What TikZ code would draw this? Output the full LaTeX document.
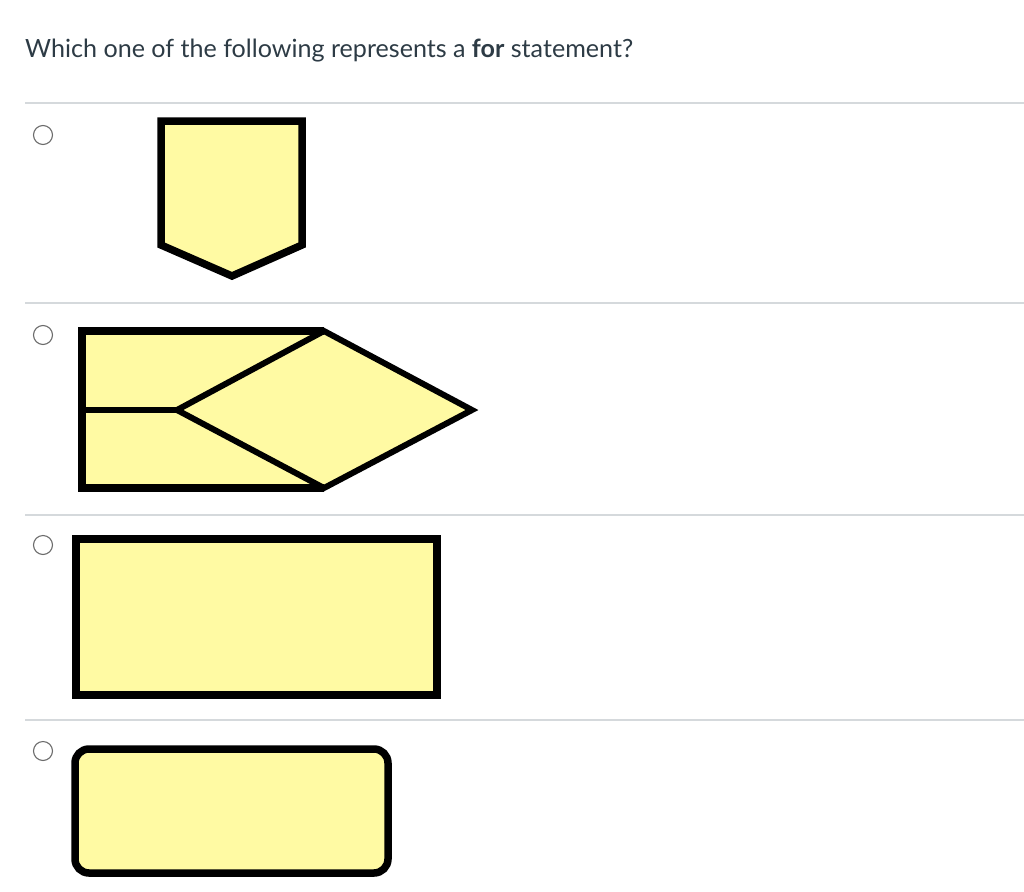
\documentclass[tikz,border=0pt]{standalone}
\usepackage{fontspec}
\setmainfont{Lato}
\definecolor{txt}{HTML}{2D3B45}
\definecolor{sep}{HTML}{D5D9DC}
\definecolor{radio}{HTML}{6B6B6B}
\definecolor{fillY}{HTML}{FFFAA3}
\tikzset{
  sepline/.style={draw=sep, line width=1.2pt},
  radiobtn/.style={circle, draw=radio, line width=1.1pt, minimum size=19pt, inner sep=0pt},
  shapeline/.style={draw=black, fill=fillY, line width=7.5pt, line join=miter},
  thinline/.style={draw=black, line width=6pt, line join=miter}
}
\begin{document}
\begin{tikzpicture}[x=1pt,y=-1pt]
\useasboundingbox (0,0) rectangle (1024,891);
% title
\node[anchor=base west, inner sep=0pt, text=txt, font=\fontsize{25.1}{29}\selectfont] (title) at (25,57)
  {Which one of the following represents a \textbf{for} statement?};
% separators
\foreach \y/\n in {103/s1,303/s2,515/s3,720/s4}{
  \coordinate (\n a) at (25,\y); \coordinate (\n b) at (1024,\y);
  \draw[sepline] (\n a) -- (\n b);
}
% radio buttons
\node[radiobtn] (r1) at (43,135) {};
\node[radiobtn] (r2) at (43,335) {};
\node[radiobtn] (r3) at (43,545) {};
\node[radiobtn] (r4) at (43,751) {};
% shape 1: off-page connector
\draw[shapeline] (161,121) -- (302,121) -- (302,245) -- (232,276) -- (161,245) -- cycle;
% shape 2: for-loop symbol
\coordinate (dl) at (177,410);
\coordinate (dt) at (324,331);
\coordinate (dr) at (472,410);
\coordinate (db) at (324,488);
\fill[fillY] (82,331) -- (dt) -- (dr) -- (db) -- (82,488) -- cycle;
\draw[shapeline, fill=none] (dt) -- (82,331) -- (82,488) -- (db);
\draw[thinline] (82,410) -- (dl);
\draw[thinline] (dl) -- (dt) -- (dr) -- (db) -- cycle;
% shape 3: rectangle
\draw[shapeline] (76,539) rectangle (437,695);
% shape 4: rounded rectangle
\draw[shapeline, rounded corners=14pt] (75,749) rectangle (388,873);
\end{tikzpicture}
\end{document}
